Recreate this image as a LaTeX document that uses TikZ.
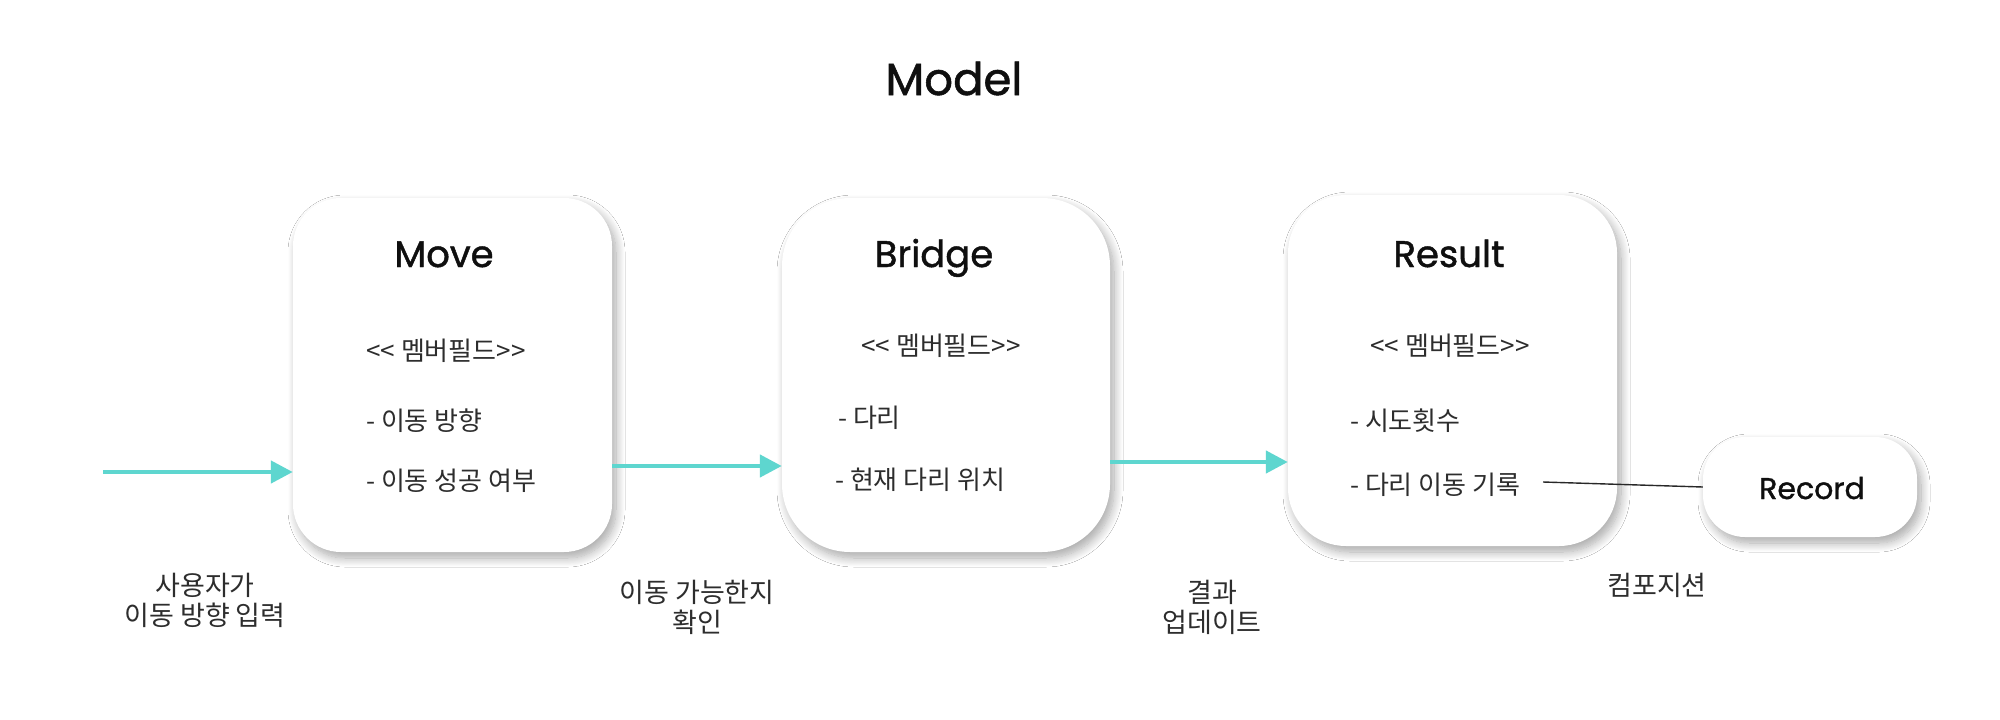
\documentclass[tikz,border=0pt]{standalone}
\usepackage{fontspec}
\setmainfont{Poppins}
\newfontfamily\ttlfont{Poppins}[FakeBold=1.2]
\newfontfamily\kr{Noto Sans CJK KR}
\usetikzlibrary{arrows.meta,shadows.blur}
\definecolor{flowc}{RGB}{94,214,207}
\definecolor{txt}{RGB}{15,15,15}
\definecolor{krtxt}{RGB}{45,45,45}
\definecolor{linkc}{RGB}{40,40,40}
\tikzset{
  card/.style={draw=none, fill=white, rounded corners=#1, inner sep=0pt,
    blur shadow={shadow xshift=4pt, shadow yshift=-6pt, shadow blur radius=9pt, shadow opacity=34, shadow blur steps=12}},
  ttl/.style={inner sep=0pt, anchor=base, text=txt, font=\ttlfont\fontsize{37}{40}\selectfont},
  stereo/.style={inner sep=0pt, text=krtxt, font=\kr\fontsize{26}{30}\selectfont},
  member/.style={inner sep=0pt, anchor=west, text=krtxt, font=\kr\fontsize{26}{30}\selectfont},
  lbl/.style={inner sep=0pt, align=center, text=krtxt, font=\kr\fontsize{27}{30}\selectfont},
  flow/.style={draw=flowc, line width=4.5pt, -{Triangle[length=22pt,width=22pt]}},
  link/.style={draw=linkc, line width=1.4pt}
}
\begin{document}
\begin{tikzpicture}[x=1pt, y=-1pt]
\useasboundingbox[fill=white] (0,0) rectangle (2000,720);

% title
\node[ttl, font=\ttlfont\fontsize{45}{50}\selectfont] (title) at (954,95) {Model};

% cards
\node[card=48pt, minimum width=319pt, minimum height=354pt] (Move) at (452.5,375) {};
\node[card=68pt, minimum width=328pt, minimum height=354pt] (Bridge) at (946,375) {};
\node[card=58pt, minimum width=329pt, minimum height=351pt] (Result) at (1452.5,370.5) {};
\node[card=42pt, minimum width=214pt, minimum height=100pt] (Record) at (1810,487) {};

% card titles
\node[ttl] (moveT) at (444,267) {Move};
\node[ttl] (bridgeT) at (934,267) {Bridge};
\node[ttl] (resultT) at (1449,267) {Result};
\node[ttl, font=\ttlfont\fontsize{30}{34}\selectfont] (recordT) at (1812,499) {Record};

% stereotypes
\node[stereo] (moveS) at (446,351) {<< 멤버필드>>};
\node[stereo] (bridgeS) at (941,346) {<< 멤버필드>>};
\node[stereo] (resultS) at (1450,346) {<< 멤버필드>>};

% members
\node[member] (m1) at (366,421) {- 이동 방향};
\node[member] (m2) at (366,481) {- 이동 성공 여부};
\node[member] (b1) at (838,418) {- 다리};
\node[member] (b2) at (835,480) {- 현재 다리 위치};
\node[member] (r1) at (1350,421) {- 시도횟수};
\node[member] (r2) at (1350,485) {- 다리 이동 기록};

% flow arrows
\coordinate (in) at (103,472);
\coordinate (y2) at (0,466);
\coordinate (y3) at (0,462);
\draw[flow] (in) -- (in -| Move.west);
\draw[flow] (Move.east |- y2) -- (Bridge.west |- y2);
\draw[flow] (Bridge.east |- y3) -- (Result.west |- y3);

% composition link
\coordinate (lnk) at (1543,482);
\draw[link] (lnk) -- (Record.west);

% labels
\node[lbl] (l1) at (205,600) {사용자가\\이동 방향 입력};
\node[lbl] (l2) at (697,607) {이동 가능한지\\확인};
\node[lbl] (l3) at (1212,607) {결과\\업데이트};
\node[lbl] (l4) at (1657,585) {컴포지션};
\end{tikzpicture}
\end{document}
